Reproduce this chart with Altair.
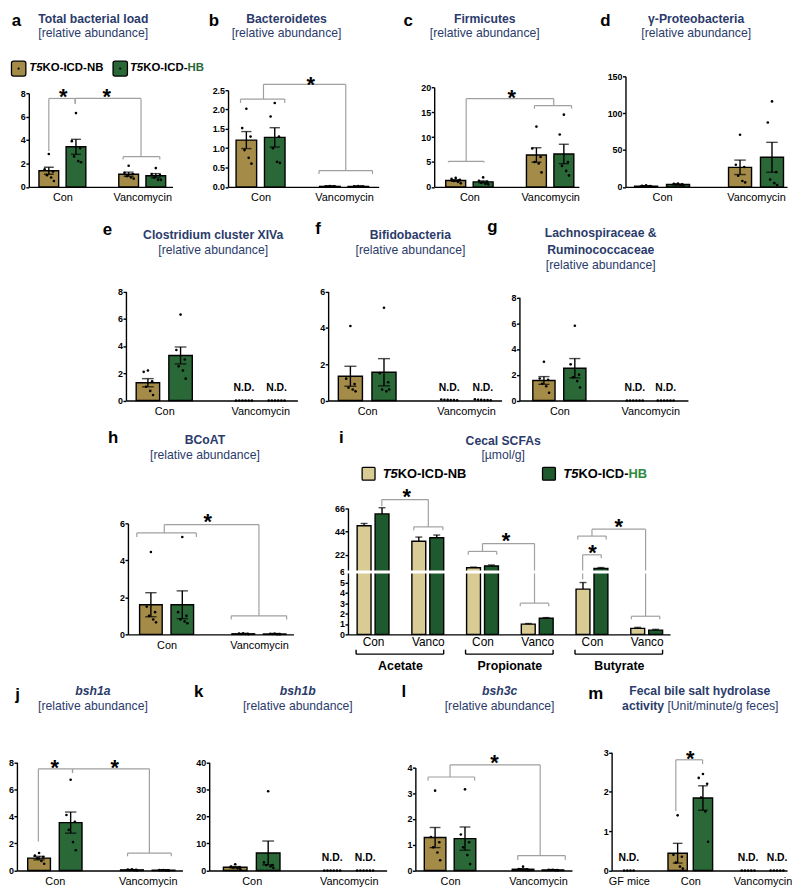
import altair as alt
import pandas as pd

FONT = "Liberation Sans"
NB_C, HB_C = "#a48b48", "#2a6838"
NB_L, HB_D = "#d8cb93", "#1e5a2e"
NAVY = "#2b3b6b"
GRAY = "#a0a0a0"
DUMMY = pd.DataFrame({"d": [0]})

# ------------------------------------------------------------------ data
groups2 = ["Con", "Vancomycin"]

a_nb_mean = [1.37, 1.08]; a_nb_sem = [0.30, 0.18]
a_hb_mean = [3.42, 0.95]; a_hb_sem = [0.64, 0.18]
a_nb_dots = [[2.8, 1.5, 1.3, 1.0, 0.8, 0.5], [1.8, 1.2, 1.1, 0.9, 0.8, 0.7]]
a_hb_dots = [[6.3, 3.9, 3.3, 2.6, 2.2, 2.1], [1.6, 1.1, 1.0, 0.8, 0.6, 0.6]]
a_nd = [False, False]
a_links = [(0.66, 3.07, 1.32, 7.1, 7.55), (1.32, 7.1, 2.97, 2.58, 7.55)]
a_pairs = [(2.98, 2.58, 0.25, 0.46)]
a_stars = [(1.02, 8.1), (2.11, 8.1)]

b_nb_mean = [1.21, 0.012]; b_nb_sem = [0.22, 0.003]
b_hb_mean = [1.28, 0.010]; b_hb_sem = [0.25, 0.003]
b_nb_dots = [[2.02, 1.52, 1.3, 0.95, 0.75, 0.6], [0.02, 0.015, 0.012, 0.01, 0.008, 0.006]]
b_hb_dots = [[2.17, 1.82, 1.3, 1.0, 0.65, 0.62], [0.018, 0.014, 0.01, 0.009, 0.007, 0.005]]
b_nd = [False, False]
b_links = [(1.07, 2.27, 3.04, 0.42, 2.65)]
b_pairs = [(1.05, 2.27, 0.1, 0.53), (3.04, 0.42, 0.09, 0.64)]
b_stars = [(2.2, 2.75)]

c_nb_mean = [1.27, 6.4]; c_nb_sem = [0.17, 1.45]
c_hb_mean = [1.0, 6.6]; c_hb_sem = [0.2, 1.95]
c_nb_dots = [[1.8, 1.6, 1.4, 1.2, 1.0, 0.7], [12.1, 7.7, 6.0, 5.0, 4.7, 2.9]]
c_hb_dots = [[1.9, 1.2, 1.0, 0.8, 0.6, 0.5], [14.5, 10.5, 5.0, 4.2, 3.2, 2.3]]
c_nd = [False, False]
c_links = [(0.92, 5.13, 3.09, 16.3, 17.7)]
c_pairs = [(0.92, 5.13, 0.23, 0.44), (3.07, 16.3, 0.6, 0.46)]
c_stars = [(2.05, 18.9)]

d_nb_mean = [1.0, 26.5]; d_nb_sem = [0.3, 9.8]
d_hb_mean = [3.2, 40.1]; d_hb_sem = [0.4, 20.3]
d_nb_dots = [[2.0, 1.5, 1.0, 0.8, 0.5, 0.3], [70.7, 30.0, 27.0, 15.0, 8.0, 6.0]]
d_hb_dots = [[4.5, 4.0, 3.5, 3.0, 2.5, 2.0], [116.0, 87.4, 20.0, 10.0, 5.0, 2.5]]
d_nd = [False, False]

e_nb_mean = [1.3, 0.0]; e_nb_sem = [0.3, 0.0]
e_hb_mean = [3.3, 0.0]; e_hb_sem = [0.62, 0.0]
e_nb_dots = [[2.2, 2.1, 1.4, 1.0, 0.7, 0.4], [0, 0, 0, 0, 0, 0]]
e_hb_dots = [[6.3, 3.7, 3.0, 2.5, 2.2, 1.6], [0, 0, 0, 0, 0, 0]]
e_nd = [False, True]

f_nb_mean = [1.33, 0.0]; f_nb_sem = [0.55, 0.0]
f_hb_mean = [1.55, 0.0]; f_hb_sem = [0.75, 0.0]
f_nb_dots = [[4.1, 1.2, 0.9, 0.7, 0.6, 0.5], [0.05, 0.04, 0.03, 0.02, 0.02, 0.01]]
f_hb_dots = [[5.1, 1.5, 1.0, 0.6, 0.5, 0.6], [0.06, 0.04, 0.03, 0.02, 0.02, 0.01]]
f_nd = [False, True]

g_nb_mean = [1.55, 0.0]; g_nb_sem = [0.3, 0.0]
g_hb_mean = [2.5, 0.0]; g_hb_sem = [0.75, 0.0]
g_nb_dots = [[3.0, 1.7, 1.6, 1.3, 1.1, 0.6], [0, 0, 0, 0, 0, 0]]
g_hb_dots = [[5.8, 2.8, 2.0, 1.8, 1.5, 1.0], [0, 0, 0, 0, 0, 0]]
g_nd = [False, True]

h_nb_mean = [1.6, 0.03]; h_nb_sem = [0.65, 0.01]
h_hb_mean = [1.6, 0.02]; h_hb_sem = [0.75, 0.008]
h_nb_dots = [[4.45, 1.5, 1.2, 1.0, 0.8, 0.65], [0.06, 0.04, 0.03, 0.02, 0.02, 0.01]]
h_hb_dots = [[5.26, 1.2, 1.0, 0.8, 0.7, 0.6], [0.04, 0.03, 0.02, 0.02, 0.01, 0.01]]
h_nd = [False, False]
h_links = [(0.95, 5.48, 3.0, 1.0, 5.93)]
h_pairs = [(1.0, 5.48, 0.22, 0.645), (3.0, 1.0, 0.2, 0.6)]
h_stars = [(1.89, 6.34)]

i_groups = ["Con", "Vanco", "Con", "Vanco", "Con", "Vanco"]
i_acids = ["Acetate", "Propionate", "Butyrate"]
i_nb_mean = [49.4, 34.9, 9.85, 0.98, 4.35, 0.57]
i_nb_sem = [2.2, 3.9, 0.65, 0.06, 0.63, 0.1]
i_hb_mean = [60.6, 38.1, 11.5, 1.55, 9.2, 0.41]
i_hb_sem = [5.8, 2.6, 1.0, 0.06, 0.9, 0.07]
i_links = [(1.16, 67.7, 2.01, 48.4, 74.1), (3.0, 25.3, 3.95, 3.0, 32.7),
           (4.83, 5.3, 5.17, 18.8, 22.1), (5.0, 39.7, 5.98, 1.74, 46.2)]
i_pairs = [(2.01, 48.4, 3.2, 0.265), (3.0, 25.3, 3.2, 0.26), (3.95, 3.0, 0.3, 0.26),
           (5.0, 39.7, 3.2, 0.26), (5.98, 1.74, 0.3, 0.26)]
i_stars = [(1.615, 81.4), (3.43, 39.7), (5.01, 28.5), (5.49, 52.5)]

j_nb_mean = [0.92, 0.05]; j_nb_sem = [0.13, 0.015]
j_hb_mean = [3.54, 0.02]; j_hb_sem = [0.78, 0.005]
j_nb_dots = [[1.3, 1.1, 1.0, 0.9, 0.7, 0.5], [0.1, 0.08, 0.05, 0.04, 0.02, 0.01]]
j_hb_dots = [[6.7, 4.1, 3.6, 3.0, 2.1, 1.5], [0.03, 0.03, 0.02, 0.02, 0.01, 0.01]]
j_nd = [False, False]
j_links = [(0.645, 2.14, 1.38, 7.2, 7.51), (1.38, 7.2, 3.035, 1.29, 7.51)]
j_pairs = [(3.035, 1.29, 0.24, 0.47)]
j_stars = [(1.0, 7.9), (2.29, 7.9)]

k_nb_mean = [1.22, 0.0]; k_nb_sem = [0.26, 0.0]
k_hb_mean = [6.5, 0.0]; k_hb_sem = [4.4, 0.0]
k_nb_dots = [[2.3, 1.5, 1.2, 1.0, 0.8, 0.5], [0, 0, 0, 0, 0, 0]]
k_hb_dots = [[29.3, 3.0, 2.0, 2.0, 1.5, 1.0], [0, 0, 0, 0, 0, 0]]
k_nd = [False, True]

l_nb_mean = [1.28, 0.05]; l_nb_sem = [0.39, 0.02]
l_hb_mean = [1.24, 0.02]; l_hb_sem = [0.45, 0.005]
l_nb_dots = [[3.1, 1.3, 1.1, 0.9, 0.7, 0.4], [0.15, 0.06, 0.05, 0.04, 0.02, 0.01]]
l_hb_dots = [[3.15, 1.4, 1.1, 0.9, 0.6, 0.25], [0.03, 0.03, 0.02, 0.02, 0.01, 0.01]]
l_nd = [False, False]
l_links = [(1.0, 3.63, 3.05, 0.58, 4.1)]
l_pairs = [(1.03, 3.63, 0.14, 0.53), (3.08, 0.58, 0.17, 0.54)]
l_stars = [(2.01, 4.38)]

m_groups = ["GF mice", "Con", "Vancomycin"]
m_nb_mean = [0.0, 0.44, 0.0]; m_nb_sem = [0.0, 0.25, 0.0]
m_hb_mean = [None, 1.84, 0.0]; m_hb_sem = [None, 0.31, 0.0]
m_nb_dots = [[0, 0, 0, 0], [1.4, 0.4, 0.35, 0.2, 0.1, 0.05], [0, 0, 0, 0, 0]]
m_hb_dots = [[], [2.45, 2.35, 2.2, 1.85, 1.5, 0.73], [0, 0, 0, 0, 0]]
m_nd = [True, False, True]
m_links = [(1.8, 1.51, 2.17, 2.7, 2.81)]
m_stars = [(2.0, 2.95)]

# ------------------------------------------------------------------ layout
ROW_STEP = 211.5
ROW_TOP = [72.0, 72.0 + ROW_STEP, 72.0 + 2 * ROW_STEP, 72.0 + 3 * ROW_STEP]
ROW_BOT = [183.5, 399.0, 635.0, 873.3]
ROW_H = [b - t for t, b in zip(ROW_TOP, ROW_BOT)]
X0 = 13.3
TOP_MIN = 8.5          # highest text top allowed (page px)
T_OFF = 8.8            # glyph centre below the text top, 12.3 px titles
L_OFF = 11.0           # glyph centre below the text top, 17 px panel letters

G = {
    "a": dict(row=0, ax=25.0, nxt=226.0, pw=145, dom=(0.283, 3.635), ytop=89.0, ymax=8, ticks=[0, 2, 4, 6, 8]),
    "b": dict(row=0, ax=226.0, nxt=434.0, pw=152, dom=(0.34, 3.71), ytop=86.0, ymax=2.5,
              ticks=[0, 0.5, 1, 1.5, 2, 2.5], fmt=".1f"),
    "c": dict(row=0, ax=434.0, nxt=627.0, pw=146, dom=(0.25, 3.59), ytop=83.0, ymax=20, ticks=[0, 5, 10, 15, 20]),
    "d": dict(row=0, ax=627.0, nxt=None, pw=163, dom=(0.327, 3.555), ytop=72.0, ymax=150, ticks=[0, 50, 100, 150]),
    "e": dict(row=1, ax=123.0, nxt=327.0, pw=173, dom=(0.306, 3.67), ytop=289.0, ymax=8, ticks=[0, 2, 4, 6, 8]),
    "f": dict(row=1, ax=327.0, nxt=520.0, pw=175, dom=(0.31, 3.62), ytop=289.0, ymax=6, ticks=[0, 2, 4, 6]),
    "g": dict(row=1, ax=520.0, nxt=None, pw=170, dom=(0.23, 3.72), ytop=295.0, ymax=8, ticks=[0, 2, 4, 6, 8]),
    "h": dict(row=2, ax=125.0, nxt=346.7, pw=167, dom=(0.27, 3.64), ytop=523.0, ymax=6, ticks=[0, 2, 4, 6]),
    "i": dict(row=2, ax=346.7, nxt=None, pw=325, dom=(0.632, 6.337), ticks=[0, 1, 2, 3, 4, 5, 6, 22, 44, 66]),
    "j": dict(row=3, ax=13.3, nxt=207.3, pw=167, dom=(0.29, 3.64), ytop=764.0, ymax=8, ticks=[0, 2, 4, 6, 8]),
    "k": dict(row=3, ax=207.3, nxt=415.0, pw=179, dom=(0.226, 3.68), ytop=764.0, ymax=40, ticks=[0, 10, 20, 30, 40]),
    "l": dict(row=3, ax=415.0, nxt=612.7, pw=158, dom=(0.324, 3.66), ytop=769.3, ymax=4, ticks=[0, 1, 2, 3, 4]),
    "m": dict(row=3, ax=612.7, nxt=None, pw=177, dom=(0.98, 3.27), ytop=754.0, ymax=3, ticks=[0, 1, 2, 3], bar=19.5),
}

DOT_PX = [0.0, -4.5, 4.5, -2.0, 2.5, 5.5]
W = {"T": .611, "5": .556, "K": .722, "O": .778, "-": .333, "I": .278, "C": .722, "D": .722,
     "N": .722, "B": .722, "H": .722}


def unit_of(key):
    g = G[key]
    return g["pw"] / (g["dom"][1] - g["dom"][0])


def frames(pos, offs, nbm, nbs, hbm, hbs, nbd, hbd, nd, unit, cols=(NB_C, HB_C)):
    bars, dots, nds = [], [], []
    for gi, p in enumerate(pos):
        ser = [(nbm[gi], nbs[gi], nbd[gi], cols[0], -offs[gi])]
        if hbm[gi] is not None:
            ser.append((hbm[gi], hbs[gi], hbd[gi], cols[1], offs[gi]))
        for m, s, dl, col, o in ser:
            x = p + o
            n = len(dl)
            if nd[gi]:
                nds.append({"x": x, "zero": 0.0})
                for i, v in enumerate(dl):
                    dots.append({"x": x + (i - (n - 1) / 2) * 3.4 / unit, "v": v})
            else:
                bars.append({"x": x, "mean": m, "lo": m - s, "hi": m + s, "zero": 0.0, "col": col})
                for i, v in enumerate(dl):
                    dots.append({"x": x + DOT_PX[i % 6] / unit, "v": v})
    return pd.DataFrame(bars), pd.DataFrame(dots), pd.DataFrame(nds)


def segs(links, pairs):
    rows = []
    for xa, ya, xb, yb, yt in links:
        rows += [(xa, yt, xb, yt), (xa, ya, xa, yt), (xb, yb, xb, yt)]
    for c, y, dr, hf in pairs:
        rows += [(c - hf, y, c + hf, y), (c - hf, y - dr, c - hf, y), (c + hf, y - dr, c + hf, y)]
    return pd.DataFrame(rows, columns=["x", "y", "x2", "y2"])


def T(x, y, s, size=12.3, weight="normal", style="normal", color=NAVY, align="center", baseline="middle"):
    return alt.Chart(DUMMY).mark_text(text=s, fontSize=size, fontWeight=weight, fontStyle=style, color=color,
                                      align=align, baseline=baseline, font=FONT).encode(
        x=alt.value(x), y=alt.value(y))


def PT(key, px, py, s, **kw):
    g = G[key]
    return T(px - g["ax"], py - ROW_TOP[g["row"]], s, **kw)


def PR(key, x1, y1, x2, y2, fill, r=2):
    g = G[key]
    ox, oy = g["ax"], ROW_TOP[g["row"]]
    return alt.Chart(DUMMY).mark_rect(fill=fill, stroke="black", strokeWidth=1.3, cornerRadius=r).encode(
        x=alt.value(x1 - ox), x2=alt.value(x2 - ox), y=alt.value(y1 - oy), y2=alt.value(y2 - oy))


def PDOT(key, px, py):
    g = G[key]
    return alt.Chart(DUMMY).mark_circle(size=5, color="black", opacity=1).encode(
        x=alt.value(px - g["ax"]), y=alt.value(py - ROW_TOP[g["row"]]))


def rich_label(key, px, py, size, last, last_col):
    out, cx = [], px
    for s, st, col in (("T5", "italic", "black"), ("KO-ICD-", "normal", "black"), (last, "normal", last_col)):
        out.append(PT(key, cx, py, s, size=size, weight="bold", style=st, color=col, align="left"))
        cx += sum(W[ch] for ch in s) * size
    return out


def heading(key, letter, lxy, lines):
    out = [PT(key, lxy[0], max(TOP_MIN, lxy[1] - L_OFF), letter, size=17, weight="bold", color="black",
              baseline="top")]
    for s, x, y, wt, st in lines:
        out.append(PT(key, x, max(TOP_MIN, y - T_OFF), s, weight=wt, style=st, baseline="top"))
    return out


def panel(key, bars, dots, nds, sg, stars, ann, xticks, xexpr, both=True, ydom=None, yrange=None,
          extra=None, lsize=11, lpad=5, bar_px=None, cap_px=None):
    g = G[key]
    row = g["row"]
    H = ROW_H[row]
    pw = g["pw"]
    unit = unit_of(key)
    bar_px = bar_px or g.get("bar", 0.46 * unit)
    cap_px = cap_px or 0.5 * bar_px
    if ydom is None:
        ydom = [0, g["ymax"]]
        yrange = [H, H - (ROW_BOT[row] - g["ytop"])]
    xs = alt.Scale(domain=list(g["dom"]), range=[0, pw], nice=False, zero=False)
    ys = alt.Scale(domain=ydom, range=yrange, nice=False, zero=False)
    xax = alt.Axis(values=xticks, labelExpr=xexpr, title=None, grid=False, ticks=False, tickSize=0,
                   tickCount=40, domainColor="black", domainWidth=1.4, labelFontSize=lsize, labelPadding=lpad,
                   labelColor="black", labelFont=FONT, labelFlush=False, labelOverlap=False)
    yax = alt.Axis(values=g["ticks"], format=g.get("fmt", "d"), title=None, grid=False, domainColor="black",
                   tickCount=40, domainWidth=1.4, tickColor="black", tickWidth=1.4, tickSize=3, labelFontSize=9,
                   labelFontWeight="bold", labelPadding=0.5, labelColor="black", labelFont=FONT,
                   labelOverlap=False)

    def X(f):
        return alt.X(f"{f}:Q", scale=xs, axis=xax)

    def Y(f):
        return alt.Y(f"{f}:Q", scale=ys, axis=yax)

    L = []
    L.append(alt.Chart(bars).mark_bar(size=bar_px, stroke="black", strokeWidth=1.4).encode(
        x=X("x"), y=Y("mean"), y2="zero", color=alt.Color("col:N", scale=None)))
    L.append(alt.Chart(bars).mark_rule(color="black", strokeWidth=1.4).encode(x=X("x"), y=Y("lo"), y2="hi"))
    L.append(alt.Chart(bars).mark_tick(orient="horizontal", size=cap_px, thickness=1.4, color="black").encode(
        x=X("x"), y=Y("hi")))
    if both:
        L.append(alt.Chart(bars).mark_tick(orient="horizontal", size=cap_px, thickness=1.4, color="black").encode(
            x=X("x"), y=Y("lo")))
    if dots is not None and len(dots):
        L.append(alt.Chart(dots).mark_circle(size=7, color="black", opacity=1).encode(x=X("x"), y=Y("v")))
    if nds is not None and len(nds):
        L.append(alt.Chart(nds).mark_text(text="N.D.", fontSize=10.5, fontWeight="bold", font=FONT,
                                          color="black", dy=-13).encode(x=X("x"), y=Y("zero")))
    if sg is not None and len(sg):
        L.append(alt.Chart(sg).mark_rule(color=GRAY, strokeWidth=1.2).encode(
            x=X("x"), x2="x2", y=Y("y"), y2="y2"))
    if stars:
        sdf = pd.DataFrame(stars, columns=["x", "y"])
        L.append(alt.Chart(sdf).mark_text(text="*", fontSize=22, fontWeight="bold", font=FONT, color="black",
                                          baseline="alphabetic", dy=12).encode(x=X("x"), y=Y("y")))
    if extra:
        L += extra(X, Y, H)
    L += ann
    cw = (g["nxt"] - g["ax"]) if g["nxt"] else pw
    return alt.layer(*L).properties(width=cw, height=H)


def two_panel(key, nbm, nbs, hbm, hbs, nbd, hbd, nd, links=(), pairs=(), stars=(), ann=()):
    bars, dots, nds = frames([1, 3], [0.34, 0.34], nbm, nbs, hbm, hbs, nbd, hbd, nd, unit_of(key))
    sg = segs(links, pairs) if (links or pairs) else None
    return panel(key, bars, dots, nds, sg, list(stars), list(ann), [1, 3],
                 "datum.value < 2 ? 'Con' : 'Vancomycin'")


SUB = "[relative abundance]"

# ------------------------------------------------------------------ panels
ann_a = heading("a", "a", (12.5, 15), [("Total bacterial load", 90, 15, "bold", "normal"),
                                       (SUB, 90, 31, "normal", "normal")])
ann_a += [PR("a", 7.5, 56.7, 22.0, 71.7, NB_C), PDOT("a", 14.7, 64.2),
          PR("a", 110, 56.7, 124.5, 71.7, HB_C), PDOT("a", 117.2, 64.2)]
ann_a += rich_label("a", 25.5, 64, 11.5, "NB", "black") + rich_label("a", 127, 64, 11.5, "HB", HB_C)
pa = two_panel("a", a_nb_mean, a_nb_sem, a_hb_mean, a_hb_sem, a_nb_dots, a_hb_dots, a_nd,
               a_links, a_pairs, a_stars, ann_a)

ann_b = heading("b", "b", (211.7, 15), [("Bacteroidetes", 285, 15, "bold", "normal"),
                                        (SUB, 285, 31, "normal", "normal")])
pb = two_panel("b", b_nb_mean, b_nb_sem, b_hb_mean, b_hb_sem, b_nb_dots, b_hb_dots, b_nd,
               b_links, b_pairs, b_stars, ann_b)

ann_c = heading("c", "c", (407.7, 15), [("Firmicutes", 485, 15, "bold", "normal"),
                                        (SUB, 485, 31, "normal", "normal")])
pc = two_panel("c", c_nb_mean, c_nb_sem, c_hb_mean, c_hb_sem, c_nb_dots, c_hb_dots, c_nd,
               c_links, c_pairs, c_stars, ann_c)

ann_d = heading("d", "d", (606.7, 15), [("γ-Proteobacteria", 698.3, 15, "bold", "normal"),
                                        (SUB, 698.3, 31, "normal", "normal")])
pd_ = two_panel("d", d_nb_mean, d_nb_sem, d_hb_mean, d_hb_sem, d_nb_dots, d_hb_dots, d_nd, ann=ann_d)

ann_e = heading("e", "e", (104.3, 230), [("Clostridium cluster XIVa", 211, 235, "bold", "normal"),
                                         (SUB, 211, 250, "normal", "normal")])
pe = two_panel("e", e_nb_mean, e_nb_sem, e_hb_mean, e_hb_sem, e_nb_dots, e_hb_dots, e_nd, ann=ann_e)

ann_f = heading("f", "f", (316.7, 229.3), [("Bifidobacteria", 410, 235, "bold", "normal"),
                                           (SUB, 410, 250, "normal", "normal")])
pf = two_panel("f", f_nb_mean, f_nb_sem, f_hb_mean, f_hb_sem, f_nb_dots, f_hb_dots, f_nd, ann=ann_f)

ann_g = heading("g", "g", (492.7, 226.7), [("Lachnospiraceae &", 602, 233.3, "bold", "normal"),
                                          ("Ruminococcaceae", 602, 250, "bold", "normal"),
                                          (SUB, 602, 265.5, "normal", "normal")])
pg = two_panel("g", g_nb_mean, g_nb_sem, g_hb_mean, g_hb_sem, g_nb_dots, g_hb_dots, g_nd, ann=ann_g)

ann_h = heading("h", "h", (110, 440), [("BCoAT", 202.7, 441.7, "bold", "normal"),
                                       (SUB, 202.7, 456.7, "normal", "normal")])
ph = two_panel("h", h_nb_mean, h_nb_sem, h_hb_mean, h_hb_sem, h_nb_dots, h_hb_dots, h_nd,
               h_links, h_pairs, h_stars, ann_h)

# panel i (broken axis via piecewise scale)
i_pos = [1, 2, 3, 4, 5, 6]
i_bars = []
for gi, p in enumerate(i_pos):
    i_bars.append({"x": p - 0.164, "mean": i_nb_mean[gi], "lo": i_nb_mean[gi],
                   "hi": i_nb_mean[gi] + i_nb_sem[gi], "zero": 0.0, "col": NB_L})
    i_bars.append({"x": p + 0.164, "mean": i_hb_mean[gi], "lo": i_hb_mean[gi],
                   "hi": i_hb_mean[gi] + i_hb_sem[gi], "zero": 0.0, "col": HB_D})
i_bars = pd.DataFrame(i_bars)
i_acid_df = pd.DataFrame({"c": [1.5, 3.5, 5.5], "l": [0.69, 2.69, 4.69], "r": [2.29, 4.29, 6.29],
                          "name": i_acids})
Hi = ROW_H[2]


def i_extra(X, Y, H):
    out = []
    out.append(alt.Chart(DUMMY).mark_rule(color="white", strokeWidth=3).encode(
        x=alt.value(-4), x2=alt.value(G["i"]["pw"]), y=alt.datum(6)))
    out.append(alt.Chart(i_acid_df).mark_rule(color="black", strokeWidth=1.4).encode(
        x=X("l"), x2="r", y=alt.value(H + 20)))
    out.append(alt.Chart(i_acid_df).mark_rule(color="black", strokeWidth=1.4).encode(
        x=X("l"), y=alt.value(H + 15.5), y2=alt.value(H + 20)))
    out.append(alt.Chart(i_acid_df).mark_rule(color="black", strokeWidth=1.4).encode(
        x=X("r"), y=alt.value(H + 15.5), y2=alt.value(H + 20)))
    out.append(alt.Chart(i_acid_df).mark_text(fontSize=12.5, fontWeight="bold", font=FONT, color="black").encode(
        x=X("c"), y=alt.value(H + 31.5), text="name:N"))
    return out


ann_i = heading("i", "i", (340, 440), [("Cecal SCFAs", 503.3, 442.7, "bold", "normal"),
                                       ("[µmol/g]", 503.3, 457.3, "normal", "normal")])
ann_i += [PR("i", 361, 466.5, 374, 479.5, NB_L, r=1), PR("i", 543, 466.5, 556, 479.5, HB_D, r=1)]
ann_i += rich_label("i", 381.7, 473, 13, "NB", "black") + rich_label("i", 564, 473, 13, "HB", "#2f8a3e")
pi = panel("i", i_bars, None, None, segs(i_links, i_pairs), i_stars, ann_i, i_pos,
           "datum.value % 2 == 1 ? 'Con' : 'Vanco'", both=False,
           ydom=[0, 6, 66], yrange=[Hi, Hi - 63, Hi - 127.3], extra=i_extra, lsize=12, lpad=2,
           bar_px=14, cap_px=7)

ann_j = heading("j", "j", (14, 699), [("bsh1a", 90, 695, "bold", "italic"),
                                      (SUB, 90, 710, "normal", "normal")])
pj = two_panel("j", j_nb_mean, j_nb_sem, j_hb_mean, j_hb_sem, j_nb_dots, j_hb_dots, j_nd,
               j_links, j_pairs, j_stars, ann_j)

ann_k = heading("k", "k", (196.7, 696), [("bsh1b", 296.7, 695, "bold", "italic"),
                                         (SUB, 296.7, 710, "normal", "normal")])
pk = two_panel("k", k_nb_mean, k_nb_sem, k_hb_mean, k_hb_sem, k_nb_dots, k_hb_dots, k_nd, ann=ann_k)

ann_l = heading("l", "l", (403.3, 696), [("bsh3c", 500, 695, "bold", "italic"),
                                         (SUB, 500, 710, "normal", "normal")])
pl = two_panel("l", l_nb_mean, l_nb_sem, l_hb_mean, l_hb_sem, l_nb_dots, l_hb_dots, l_nd,
               l_links, l_pairs, l_stars, ann_l)

ann_m = heading("m", "m", (596.7, 698), [("Fecal bile salt hydrolase", 701.7, 695, "bold", "normal")])
ann_m += [PT("m", 623.3, 710 - T_OFF, "activity", weight="bold", align="left", baseline="top"),
          PT("m", 669.0, 710 - T_OFF, "[Unit/minute/g feces]", align="left", baseline="top")]
m_bars, m_dots, m_nds = frames([1.15, 2, 3], [0.0, 0.175, 0.2], m_nb_mean, m_nb_sem, m_hb_mean, m_hb_sem,
                               m_nb_dots, m_hb_dots, m_nd, unit_of("m"))
pm = panel("m", m_bars, m_dots, m_nds, segs(m_links, []), m_stars, ann_m, [1.15, 2, 3],
           "datum.value < 1.5 ? 'GF mice' : (datum.value < 2.5 ? 'Con' : 'Vancomycin')")


def spacer(w, H):
    return alt.Chart(DUMMY).mark_point(opacity=0).encode(x=alt.value(0), y=alt.value(0)).properties(
        width=w, height=H)


row1 = alt.hconcat(spacer(G["a"]["ax"] - X0, ROW_H[0]), pa, pb, pc, pd_, spacing=0, bounds="flush")
row2 = alt.hconcat(spacer(G["e"]["ax"] - X0, ROW_H[1]), pe, pf, pg, spacing=0, bounds="flush")
row3 = alt.hconcat(spacer(G["h"]["ax"] - X0, ROW_H[2]), ph, pi, spacing=0, bounds="flush")
row4 = alt.hconcat(pj, pk, pl, pm, spacing=0, bounds="flush")

# nested flush rows are stacked by their top edges, so the spacing is the row pitch
chart = alt.vconcat(row1, row2, row3, row4, spacing=ROW_STEP, bounds="flush").properties(padding=0)
chart = chart.configure(font=FONT).configure_view(stroke="transparent", strokeWidth=0)

chart.save("out.html", embed_options={"renderer": "svg", "actions": False})
